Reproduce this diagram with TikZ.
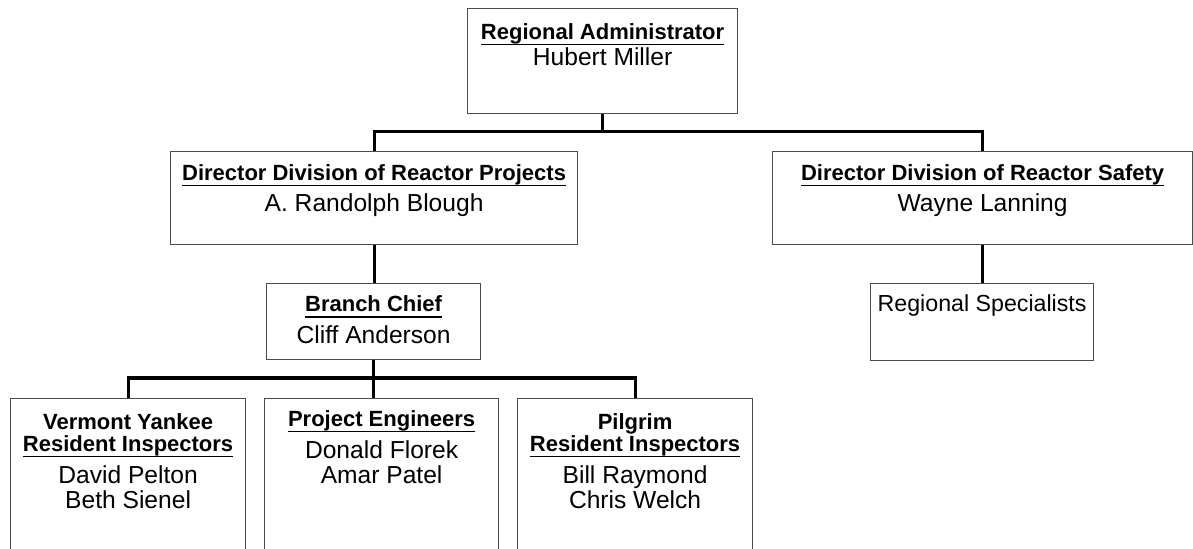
\documentclass[tikz,border=0pt]{standalone}
\usepackage{fontspec}
\setmainfont{Liberation Sans}
\usetikzlibrary{positioning}
\newcommand{\bd}[1]{{\bfseries\fontsize{11}{11}\selectfont #1}}
\newcommand{\hd}[1]{{\bfseries\fontsize{11}{11}\selectfont\setbox0\hbox{#1}\rlap{\vrule height -2.2pt depth 3pt width \wd0}\box0}}
\begin{document}
\begin{tikzpicture}[x=0.5pt, y=-0.5pt,
    box/.style={draw=black!70, line width=0.6pt, anchor=north west, inner sep=0pt},
    txt/.style={align=center, inner sep=0pt, font=\fontsize{12.3}{12.5}\selectfont},
    link/.style={line width=1.6pt}]
  \useasboundingbox (0,0) rectangle (1193,548);
  \clip (0,0) rectangle (1193,548);
  % top level
  \node[box, minimum width=135pt, minimum height=52.5pt] (ra) at (467,8) {};
  \node[txt, below=7.5pt of ra.north] (ra-t) {\hd{Regional Administrator}\\[0.5pt]Hubert Miller};
  % directors
  \node[box, minimum width=203.5pt, minimum height=46.5pt] (drp) at (170,151) {};
  \node[txt, below=6.5pt of drp.north] (drp-t) {\hd{Director Division of Reactor Projects}\\[3.3pt]A. Randolph Blough};
  \node[box, minimum width=210pt, minimum height=46.5pt] (drs) at (772,151) {};
  \node[txt, below=6.5pt of drs.north] (drs-t) {\hd{Director Division of Reactor Safety}\\[3.3pt]Wayne Lanning};
  % second level
  \node[box, minimum width=107pt, minimum height=38pt] (bc) at (266,283) {};
  \node[txt, below=6.3pt of bc.north] (bc-t) {\hd{Branch Chief}\\[3.2pt]Cliff Anderson};
  \node[box, minimum width=111.5pt, minimum height=38.5pt] (rs) at (870,283) {};
  \node[txt, font=\fontsize{11.6}{12.5}\selectfont, below=5.8pt of rs.north] (rs-t) {Regional Specialists};
  % bottom row
  \node[box, minimum width=117.5pt, minimum height=81pt] (vy) at (10,398) {};
  \node[txt, below=7.5pt of vy.north] (vy-t) {\bd{Vermont Yankee}\\[-1.5pt]\hd{Resident Inspectors}\\[3.5pt]David Pelton\\Beth Sienel};
  \node[box, minimum width=117pt, minimum height=81pt] (pe) at (264,398) {};
  \node[txt, below=6pt of pe.north] (pe-t) {\hd{Project Engineers}\\[3.5pt]Donald Florek\\Amar Patel};
  \node[box, minimum width=117.5pt, minimum height=81pt] (pg) at (517,398) {};
  \node[txt, below=7.5pt of pg.north] (pg-t) {\bd{Pilgrim}\\[-1.5pt]\hd{Resident Inspectors}\\[3.5pt]Bill Raymond\\Chris Welch};
  % connectors
  \draw[link] (ra.south) -- ++(0,17) coordinate (ra-j);
  \draw[link] (drp.north) |- (ra-j) -| (drs.north);
  \draw[link] (drp.south) -- (drp.south |- bc.north);
  \draw[link] (drs.south) -- (drs.south |- rs.north);
  \draw[link] (bc.south) -- (bc.south |- pe.north);
  \draw[link] (vy.north) -- ++(0,-20) -| (pg.north);
\end{tikzpicture}
\end{document}
